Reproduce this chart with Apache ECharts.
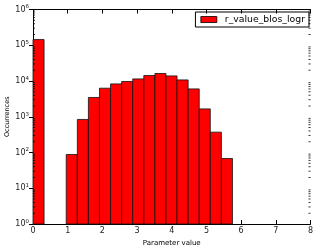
<!DOCTYPE html>
<html><head><meta charset="utf-8">
<script src="https://cdn.jsdelivr.net/npm/echarts@6/dist/echarts.min.js"></script>
<style>html,body{margin:0;padding:0;background:#fff}#c{width:317px;height:249px}</style>
</head><body><div id="c"></div>
<script>
// Histogram bins (left and right edges) and counts
const binLeft  = [0, 0.319, 0.639, 0.958, 1.278, 1.597, 1.917, 2.236, 2.556, 2.875, 3.194, 3.514, 3.833, 4.153, 4.472, 4.792, 5.111, 5.431];
const binRight = [0.319, 0.639, 0.958, 1.278, 1.597, 1.917, 2.236, 2.556, 2.875, 3.194, 3.514, 3.833, 4.153, 4.472, 4.792, 5.111, 5.431, 5.75];
const counts   = [144000, 0, 0, 88, 840, 3460, 6290, 8300, 9680, 11450, 14230, 16200, 13900, 10740, 6020, 1660, 371, 68];
const seriesName = 'r_value_blos_logr';
const xTicks = [0, 1, 2, 3, 4, 5, 6, 7, 8];
const yMinorTicks = [2,3,4,5,6,7,8,9,20,30,40,50,60,70,80,90,200,300,400,500,600,700,800,900,2000,3000,4000,5000,6000,7000,8000,9000,20000,30000,40000,50000,60000,70000,80000,90000,200000,300000,400000,500000,600000,700000,800000,900000];

const font = 'DejaVu Sans';
const barData = [];
for (let i = 0; i < counts.length; i++) {
  if (counts[i] > 0) barData.push([binLeft[i], binRight[i], counts[i]]);
}
const chart = echarts.init(document.getElementById('c'), null, {renderer: 'canvas'});
const axLine = {show: true, lineStyle: {color: '#000', width: 1}};
chart.setOption({
  animation: false,
  grid: {left: 33, right: 6.5, top: 9.5, bottom: 25, containLabel: false, outerBoundsMode: 'none'},
  legend: {
    data: [seriesName], right: 8, top: 12, orient: 'vertical',
    icon: 'rect', itemWidth: 16, itemHeight: 6, itemGap: 2,
    borderColor: '#000', borderWidth: 1, borderRadius: 0, padding: [3, 4, 3, 5],
    textStyle: {fontFamily: font, fontSize: 9.3, color: '#000', padding: [0, 0, 0, 3]},
    selectedMode: false,
    itemStyle: {color: '#ff0000', borderColor: '#000', borderWidth: 0.8}
  },
  xAxis: [{
    type: 'value', min: 0, max: 8, interval: 1, position: 'bottom',
    name: 'Parameter value', nameLocation: 'middle', nameGap: 16, nameMoveOverlap: false,
    nameTextStyle: {fontFamily: font, fontSize: 7, color: '#000'},
    axisLine: axLine, splitLine: {show: false},
    axisTick: {show: true, inside: true, length: 4, lineStyle: {color: '#000'}},
    axisLabel: {fontFamily: font, fontSize: 8, color: '#222', margin: 3}
  }, {
    type: 'value', min: 0, max: 8, interval: 1, position: 'top',
    axisLine: axLine, splitLine: {show: false},
    axisTick: {show: true, inside: true, length: 4, lineStyle: {color: '#000'}},
    axisLabel: {show: false}
  }],
  yAxis: [{
    type: 'log', min: 1, max: 1000000, logBase: 10, position: 'left',
    name: 'Occurrences', nameLocation: 'middle', nameGap: 22, nameMoveOverlap: false,
    nameTextStyle: {fontFamily: font, fontSize: 6.5, color: '#000'},
    axisLine: axLine, splitLine: {show: false},
    axisTick: {show: true, inside: true, length: 4, lineStyle: {color: '#000'}},
    axisLabel: {
      fontFamily: font, fontSize: 8, color: '#222', margin: 4,
      formatter: v => '10{s|' + Math.round(Math.log10(v)) + '}',
      rich: {s: {fontFamily: font, fontSize: 5.5, color: '#222', verticalAlign: 'top', padding: [0, 0, 5, 0]}}
    }
  }, {
    type: 'log', min: 1, max: 1000000, logBase: 10, position: 'right',
    axisLine: axLine, splitLine: {show: false},
    axisTick: {show: true, inside: true, length: 4, lineStyle: {color: '#000'}},
    axisLabel: {show: false}
  }],
  series: [{
    name: seriesName, type: 'custom', xAxisIndex: 0, yAxisIndex: 0,
    itemStyle: {color: '#ff0000', borderColor: '#000'},
    encode: {x: [0, 1], y: 2},
    data: barData,
    renderItem: function (params, api) {
      const p0 = api.coord([api.value(0), api.value(2)]);
      const p1 = api.coord([api.value(1), 1]);
      return {type: 'rect', shape: {x: p0[0], y: p0[1], width: p1[0] - p0[0], height: p1[1] - p0[1]},
        style: {fill: '#ff0000', stroke: '#111', lineWidth: 0.8}};
    },
    z: 1
  }, {
    name: 'minor', type: 'custom', xAxisIndex: 0, yAxisIndex: 0, silent: true,
    data: yMinorTicks.map(v => [0, v]),
    encode: {x: 0, y: 1},
    renderItem: function (params, api) {
      const v = api.value(1);
      const a = api.coord([0, v]);
      const b = api.coord([8, v]);
      const st = {stroke: '#000', lineWidth: 0.8};
      return {type: 'group', children: [
        {type: 'line', shape: {x1: a[0], y1: a[1], x2: a[0] + 2, y2: a[1]}, style: st},
        {type: 'line', shape: {x1: b[0], y1: b[1], x2: b[0] - 2, y2: b[1]}, style: st}
      ]};
    },
    z: 5
  }]
});
</script></body></html>
